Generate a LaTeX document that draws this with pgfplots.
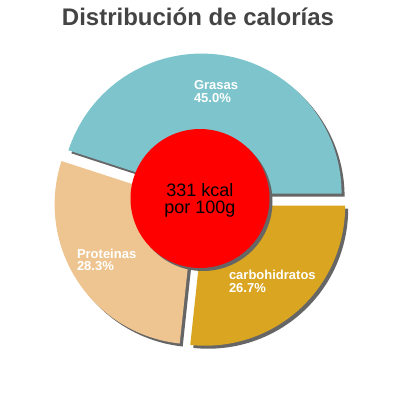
\documentclass[border=0pt]{standalone}
\usepackage{pgfplots}
\pgfplotsset{compat=1.18}
\usepackage{fontspec}
\setmainfont{Liberation Sans}
\definecolor{cG}{HTML}{7DC4CC}
\definecolor{cP}{HTML}{EEC591}
\definecolor{cC}{HTML}{DAA520}
\definecolor{cSh}{HTML}{666666}
\definecolor{cT}{HTML}{444444}
% data (percent of calories)
\def\pG{45.0}
\def\pP{28.3}
\def\pC{26.7}
% geometry (pixel units, y downwards)
\def\cx{200.5}
\def\cy{200.5}
\def\R{140}
\def\dd{7}
\newcommand{\pieslice}[5]{%
  \pgfmathsetmacro\pmid{(#1+#2)/2}%
  \pgfmathsetmacro\pox{\cx+\dd*cos(\pmid)+#4}%
  \pgfmathsetmacro\poy{\cy-\dd*sin(\pmid)+#5}%
  \edef\pdo{\noexpand\addplot[fill=#3, draw=none, mark=none, domain=#1:#2, samples=120] ({\pox+\R*cos(x)},{\poy-\R*sin(x)}) -- (axis cs:\pox,\poy) -- cycle;}%
  \pdo
}
\begin{document}
\begin{tikzpicture}
\path[use as bounding box] (0,0) rectangle (400bp,400bp);
\begin{axis}[at={(0,0)}, anchor=south west, scale only axis,
  width=400bp, height=400bp, xmin=0, xmax=400, ymin=0, ymax=400,
  y dir=reverse, hide axis, clip=false]
\pgfmathsetmacro\aA{0}
\pgfmathsetmacro\aB{3.6*\pG}
\pgfmathsetmacro\aC{\aB+3.6*\pP}
\pgfmathsetmacro\aD{360}
% shadows
\pieslice{\aA}{\aB}{cSh}{3}{3}
\pieslice{\aB}{\aC}{cSh}{3}{3}
\pieslice{\aC}{\aD}{cSh}{3}{3}
% slices
\pieslice{\aA}{\aB}{cG}{0}{0}
\pieslice{\aB}{\aC}{cP}{0}{0}
\pieslice{\aC}{\aD}{cC}{0}{0}
% centre disc
\addplot[fill=cSh, draw=none, mark=none, domain=0:360, samples=180] ({203+69.5*cos(x)},{201.5+69.5*sin(x)}) -- cycle;
\addplot[fill=red, draw=none, mark=none, domain=0:360, samples=180] ({200+69.5*cos(x)},{198.5+69.5*sin(x)}) -- cycle;
% labels
\begin{scope}[every node/.style={inner sep=0pt, outer sep=0pt}]
\node[anchor=base, text=cT, font=\fontsize{24bp}{28bp}\selectfont\bfseries] at (axis cs:198,25) {Distribución de calorías};
\node[anchor=base west, text=white, font=\fontsize{13bp}{15bp}\selectfont\bfseries] at (axis cs:194,89) {Grasas};
\node[anchor=base west, text=white, font=\fontsize{13bp}{15bp}\selectfont\bfseries] at (axis cs:194,102) {45.0\%};
\node[anchor=base west, text=white, font=\fontsize{13bp}{15bp}\selectfont\bfseries] at (axis cs:77,258) {Proteinas};
\node[anchor=base west, text=white, font=\fontsize{13bp}{15bp}\selectfont\bfseries] at (axis cs:77,270.5) {28.3\%};
\node[anchor=base west, text=white, font=\fontsize{13bp}{15bp}\selectfont\bfseries] at (axis cs:229,279.5) {carbohidratos};
\node[anchor=base west, text=white, font=\fontsize{13bp}{15bp}\selectfont\bfseries] at (axis cs:229,292) {26.7\%};
\node[anchor=base, text=black, font=\fontsize{18bp}{21bp}\selectfont] at (axis cs:200,196) {331 kcal};
\node[anchor=base, text=black, font=\fontsize{18bp}{21bp}\selectfont] at (axis cs:200,213.5) {por 100g};
\end{scope}
\end{axis}
\end{tikzpicture}
\end{document}
